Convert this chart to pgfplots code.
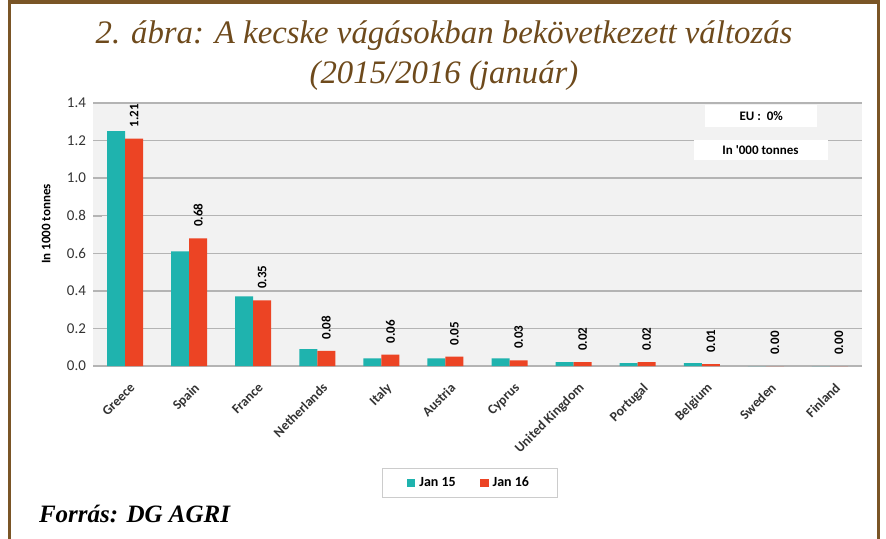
\documentclass[border=0pt]{standalone}
\usepackage{fontspec}
\setmainfont{Liberation Serif}
\newfontfamily\chartfont{Carlito}
\usepackage{pgfplots}
\pgfplotsset{compat=1.18}
\definecolor{framebrown}{HTML}{7A5526}
\definecolor{titlebrown}{HTML}{6E4A1C}
\definecolor{teal15}{HTML}{1FB3AE}
\definecolor{red16}{HTML}{EC4424}
\definecolor{plotbg}{HTML}{F2F2F2}
\definecolor{gridgray}{HTML}{B4B4B4}
\begin{document}
\begin{tikzpicture}
% page = 886 x 539 px, 1 px = 0.5pt
\path[use as bounding box] (0,0) rectangle (443pt,-269.5pt);
\draw[framebrown, line width=1.6pt] (4.6pt,-269.5pt) -- (4.6pt,-1pt) -- (439.4pt,-1pt) -- (439.4pt,-269.5pt);

\node[anchor=base, text=titlebrown, font=\fontsize{16.4}{18}\selectfont\itshape] at (222pt,-22pt)
  {2. ábra: A kecske vágásokban bekövetkezett változás};
\node[anchor=base, text=titlebrown, font=\fontsize{16.4}{18}\selectfont\itshape] at (222pt,-42pt)
  {(2015/2016 (január)};
\node[anchor=base west, font=\fontsize{12.5}{13}\selectfont\bfseries\itshape] at (16pt,-261pt)
  {Forrás: DG AGRI};

\begin{axis}[
  at={(46.5pt,-183pt)}, anchor=south west,
  width=384.5pt, height=131.5pt, scale only axis,
  ybar=0pt, bar width=9pt,
  xmin=-0.5, xmax=11.5, ymin=0, ymax=1.4,
  ytick={0,0.2,...,1.4},
  yticklabel style={/pgf/number format/.cd, fixed, fixed zerofill, precision=1},
  /pgf/number format/assume math mode=true,
  ticklabel style={font=\chartfont\fontsize{7.5}{8}\selectfont, text=black!80},
  xtick={0,...,11},
  xticklabels={Greece,Spain,France,Netherlands,Italy,Austria,Cyprus,United Kingdom,Portugal,Belgium,Sweden,Finland},
  xticklabel style={rotate=45, anchor=north east, font=\chartfont\bfseries\fontsize{6.8}{7}\selectfont, inner sep=1pt, yshift=-3pt},
  major x tick style={draw=none},
  ytick style={gridgray},
  axis line style={gridgray, line width=0.6pt},
  axis x line*=bottom, axis y line*=left,
  y axis line style={draw=none},
  ymajorgrids, grid style={gridgray, line width=0.7pt},
  axis background/.style={fill=plotbg},
  ylabel={In 1000 tonnes},
  ylabel style={at={(axis description cs:-0.061,0.54)}, anchor=center, rotate=0, font=\chartfont\bfseries\fontsize{6.5}{7}\selectfont},
  legend style={at={(0.49,-0.445)}, anchor=center, draw=gray!40, fill=white,
    font=\chartfont\bfseries\fontsize{7}{8}\selectfont, legend columns=2,
    /tikz/every even column/.append style={column sep=10pt},
    inner xsep=12pt, inner ysep=2pt},
  legend image code/.code={\fill[#1] (0pt,-2.2pt) rectangle (4.4pt,2.2pt);},
  clip=false,
]
\addplot[fill=teal15, draw=none] coordinates {
  (0,1.25) (1,0.61) (2,0.37) (3,0.09) (4,0.04) (5,0.04)
  (6,0.04) (7,0.02) (8,0.015) (9,0.015) (10,0.0) (11,0.0)
};
\addlegendentry{Jan 15}
\addplot[fill=red16, draw=none,
  nodes near coords={\pgfmathprintnumber[fixed, fixed zerofill, precision=2]{\pgfplotspointmeta}},
  nodes near coords style={rotate=90, anchor=west, inner sep=5.5pt, text=black, font=\chartfont\bfseries\fontsize{6.5}{7}\selectfont},
] coordinates {
  (0,1.21) (1,0.68) (2,0.35) (3,0.08) (4,0.06) (5,0.05)
  (6,0.03) (7,0.02) (8,0.02) (9,0.01) (10,0.0) (11,0.0)
};
\addlegendentry{Jan 16}
\node[fill=white, minimum width=56pt, minimum height=11pt, inner sep=0pt,
  font=\chartfont\bfseries\fontsize{6.5}{7}\selectfont] at (rel axis cs:0.869,0.951) {EU :\ \ 0\%};
\node[fill=white, minimum width=67pt, minimum height=10pt, inner sep=0pt,
  font=\chartfont\bfseries\fontsize{6.5}{7}\selectfont] at (rel axis cs:0.868,0.821) {In '000 tonnes};
\end{axis}
\end{tikzpicture}
\end{document}
